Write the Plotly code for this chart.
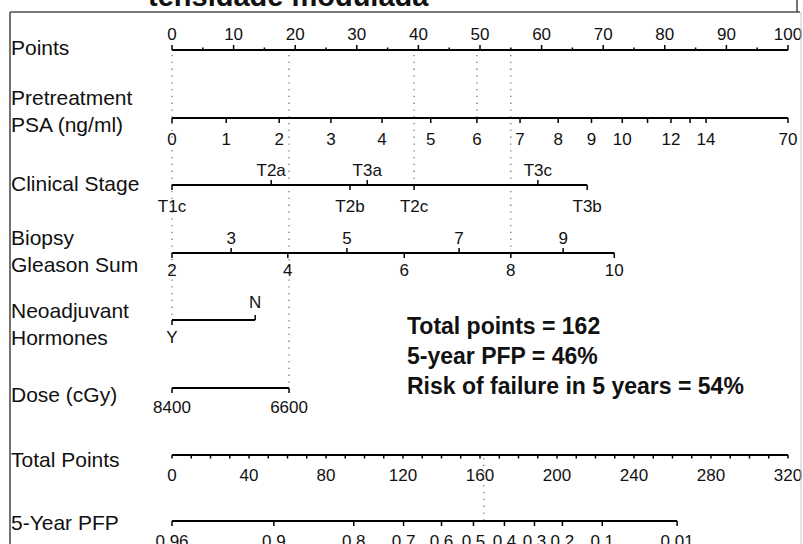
import plotly.graph_objects as go

# ---------------- data ----------------
points_major = [0, 10, 20, 30, 40, 50, 60, 70, 80, 90, 100]
points_minor = [5, 15, 25, 35, 45, 55, 65, 75, 85, 95]

psa_values = [0, 1, 2, 3, 4, 5, 6, 7, 8, 9, 10, 11, 12, 13, 14, 70]
psa_labels = ["0", "1", "2", "3", "4", "5", "6", "7", "8", "9", "10", "", "12", "", "14", "70"]
psa_points = [0, 8.8, 17.4, 25.8, 34.1, 42.0, 49.5, 56.5, 62.7, 68.1, 73.1, 77.2, 81.0, 84.1, 86.7, 100]

stage_labels = ["T1c", "T2a", "T2b", "T3a", "T2c", "T3c", "T3b"]
stage_points = [0, 16.1, 28.9, 31.7, 39.3, 59.4, 67.4]
stage_side = [1, -1, 1, -1, 1, -1, 1]          # 1 = label below, -1 = label above

gleason_values = [2, 3, 4, 5, 6, 7, 8, 9, 10]
gleason_points = [0, 9.6, 18.8, 28.4, 37.7, 46.6, 55.0, 63.5, 71.8]
gleason_side = [1, -1, 1, -1, 1, -1, 1, -1, 1]

hormone_labels = ["Y", "N"]
hormone_points = [0, 13.5]
hormone_side = [1, -1]

dose_labels = ["8400", "6600"]
dose_points = [0, 19.0]
dose_side = [1, 1]

total_ticks = list(range(0, 321, 10))
total_labels = [0, 40, 80, 120, 160, 200, 240, 280, 320]
total_max = 320

pfp_labels = ["0.96", "0.9", "0.8", "0.7", "0.6", "0.5", "0.4", "0.3", "0.2", "0.1", "0.01"]
pfp_total_points = [0, 52.9, 94.4, 120.3, 140.0, 156.6, 172.7, 188.3, 202.8, 223.5, 262.4]

# example patient
patient_psa_points = 49.5        # PSA 6
patient_stage_points = 39.3      # T2c
patient_gleason_points = 55.0    # Gleason 8
patient_hormone_points = 0       # Y
patient_dose_points = 19.0       # 6600 cGy
patient_total = 162
patient_pfp = 46
patient_risk = 54

# ---------------- layout constants ----------------
W, H = 803, 544
X0_PX, X100_PX = 172, 788
PX_PER_PT = (X100_PX - X0_PX) / 100.0
XR = [-X0_PX / PX_PER_PT, (W - X0_PX) / PX_PER_PT]

ROW = dict(points=50, psa=118, stage=185, gleason=253, hormone=320,
           dose=388, total=455, pfp=521)
LINE_W = 2.2
TICK_W = 1.5
TICK_LEN = 5
LAB_OFF_BELOW = 23
LAB_OFF_ABOVE = 13
TICK_FONT = dict(family="Liberation Sans, Arial, sans-serif", size=17, color="#111")
ROW_FONT = dict(family="Liberation Sans, Arial, sans-serif", size=21, color="#111")

fig = go.Figure()


def tp_to_pts(tp):
    return tp * 100.0 / total_max


def axis_line(x0, x1, y):
    fig.add_trace(go.Scatter(x=[x0, x1], y=[y, y], mode="lines",
                             line=dict(color="black", width=LINE_W),
                             hoverinfo="skip", showlegend=False))


def ticks(xs, y, dirs, length=TICK_LEN, width=TICK_W):
    tx, ty = [], []
    for x, d in zip(xs, dirs):
        tx += [x, x, None]
        ty += [y, y + d * length, None]
    fig.add_trace(go.Scatter(x=tx, y=ty, mode="lines",
                             line=dict(color="black", width=width),
                             hoverinfo="skip", showlegend=False))


def labels(xs, ys, texts, font=TICK_FONT):
    fig.add_trace(go.Scatter(x=xs, y=ys, mode="text", text=texts,
                             textposition="middle center", textfont=font,
                             hoverinfo="skip", showlegend=False))


def dotted(x, y0, y1):
    fig.add_trace(go.Scatter(x=[x, x], y=[y0, y1], mode="lines",
                             line=dict(color="#777", width=1.3, dash="1.3px,5.5px"),
                             hoverinfo="skip", showlegend=False))


# patient dotted guide lines (drawn first, under the axes)
for p, row in [(patient_hormone_points, "hormone"), (patient_dose_points, "dose"),
               (patient_stage_points, "stage"), (patient_psa_points, "psa"),
               (patient_gleason_points, "gleason")]:
    dotted(p, ROW["points"] + 5, ROW[row])
dotted(tp_to_pts(patient_total), ROW["total"] + 3, ROW["pfp"])

# Points
y = ROW["points"]
axis_line(points_major[0], points_major[-1], y)
ticks(points_major, y, [-1] * len(points_major))
ticks(points_minor, y, [-1] * len(points_minor), length=2.5)
labels(points_major, [y - 14] * len(points_major), [str(v) for v in points_major])

# PSA
y = ROW["psa"]
axis_line(psa_points[0], psa_points[-1], y)
ticks(psa_points, y, [1] * len(psa_points))
labels(psa_points, [y + LAB_OFF_BELOW] * len(psa_points), psa_labels)

# Clinical stage
y = ROW["stage"]
axis_line(stage_points[0], stage_points[-1], y)
ticks(stage_points, y, stage_side)
labels(stage_points, [y + (LAB_OFF_BELOW if s > 0 else -LAB_OFF_ABOVE) for s in stage_side], stage_labels)

# Gleason
y = ROW["gleason"]
axis_line(gleason_points[0], gleason_points[-1], y)
ticks(gleason_points, y, gleason_side)
labels(gleason_points, [y + (19 if s > 0 else -LAB_OFF_ABOVE) for s in gleason_side],
       [str(v) for v in gleason_values])

# Hormones
y = ROW["hormone"]
axis_line(hormone_points[0], hormone_points[-1], y)
ticks(hormone_points, y, hormone_side)
labels(hormone_points, [y + (19 if s > 0 else -16) for s in hormone_side], hormone_labels)

# Dose
y = ROW["dose"]
axis_line(dose_points[0], dose_points[-1], y)
ticks(dose_points, y, dose_side)
labels(dose_points, [y + 21] * len(dose_points), dose_labels)

# Total points
y = ROW["total"]
tp_x = [tp_to_pts(v) for v in total_ticks]
axis_line(tp_x[0], tp_x[-1], y)
ticks(tp_x, y, [1] * len(tp_x), length=3.5)
labels([tp_to_pts(v) for v in total_labels], [y + 22] * len(total_labels),
       [str(v) for v in total_labels])

# 5-year PFP
y = ROW["pfp"]
pf_x = [tp_to_pts(v) for v in pfp_total_points]
axis_line(pf_x[0], pf_x[-1], y)
ticks(pf_x, y, [1] * len(pf_x))
labels(pf_x, [y + 22] * len(pf_x), pfp_labels)

# ---------------- row titles ----------------
row_titles = [("Points", 47), ("Pretreatment<br>PSA (ng/ml)", 111), ("Clinical Stage", 183),
              ("Biopsy<br>Gleason Sum", 251), ("Neoadjuvant<br>Hormones", 324),
              ("Dose (cGy)", 394), ("Total Points", 459), ("5-Year PFP", 522)]
for txt, yy in row_titles:
    fig.add_annotation(x=9 / W, xref="paper", y=yy, yref="y", text=txt, showarrow=False,
                       xanchor="left", yanchor="middle", align="left", font=ROW_FONT)

# result annotation
fig.add_annotation(x=(405 - X0_PX) / PX_PER_PT, xref="x", y=356, yref="y",
                   text=(f"<b>Total points = {patient_total}</b><br>"
                         f"<b>5-year PFP = {patient_pfp}%</b><br>"
                         f"<b>Risk of failure in 5 years = {patient_risk}%</b>"),
                   showarrow=False, xanchor="left", yanchor="middle", align="left",
                   font=dict(family="Liberation Sans, Arial, sans-serif", size=23, color="#111"))

# cut-off slide title
fig.add_annotation(x=146 / W, xref="paper", y=14, yref="y", text="<b>tensidade modulada</b>",
                   showarrow=False, xanchor="left", yanchor="bottom",
                   font=dict(family="Liberation Sans, Arial, sans-serif", size=29, color="#111"))

# slide frame
fig.add_shape(type="line", xref="paper", yref="y", x0=10 / W, x1=800 / W, y0=12, y1=12,
              line=dict(color="#7a7a7a", width=2))
fig.add_shape(type="line", xref="paper", yref="y", x0=10 / W, x1=10 / W, y0=12, y1=H,
              line=dict(color="#444", width=1.5))
fig.add_shape(type="line", xref="paper", yref="y", x0=797 / W, x1=797 / W, y0=0, y1=12,
              line=dict(color="#444", width=1.5))
fig.add_shape(type="line", xref="paper", yref="y", x0=801 / W, x1=801 / W, y0=12, y1=H,
              line=dict(color="#c8c8c8", width=1))

fig.update_layout(
    width=W, height=H, autosize=False,
    margin=dict(l=0, r=0, t=0, b=0, pad=0),
    plot_bgcolor="white", paper_bgcolor="white",
    xaxis=dict(range=XR, visible=False, fixedrange=True),
    yaxis=dict(range=[H, 0], visible=False, fixedrange=True),
    showlegend=False,
)

fig.write_html("out.html", config={"displayModeBar": False},
               post_script="document.body.style.margin='0';document.body.style.padding='0';")
